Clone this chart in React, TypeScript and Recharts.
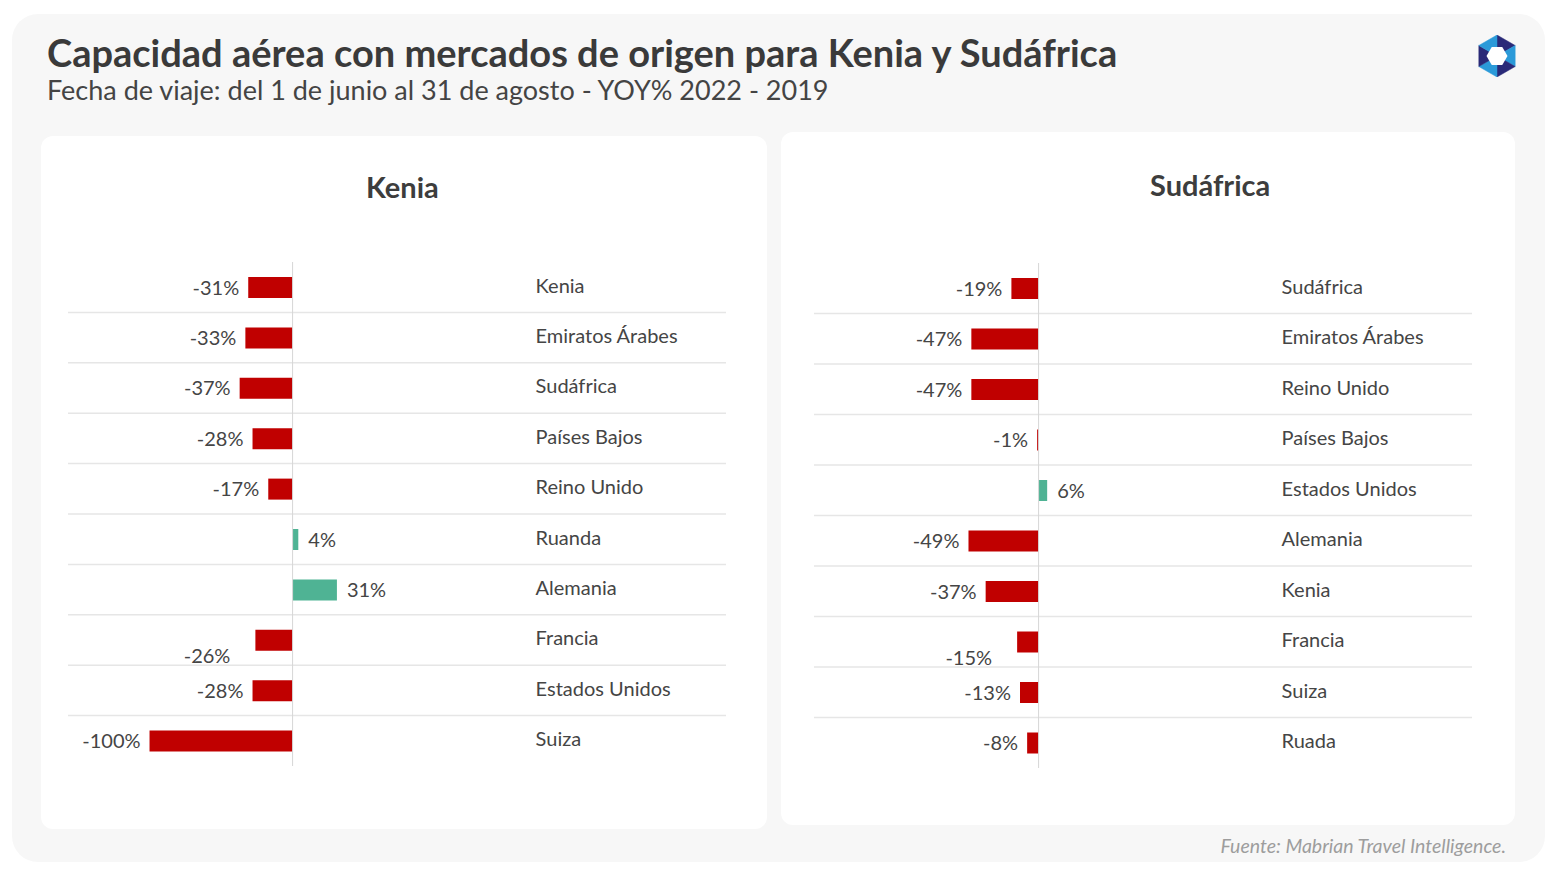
import React from 'react';
import { BarChart, Bar, XAxis, YAxis, CartesianGrid, ReferenceLine, LabelList, Cell } from 'recharts';

const keniaMarkets = ['Kenia', 'Emiratos Árabes', 'Sudáfrica', 'Países Bajos', 'Reino Unido', 'Ruanda', 'Alemania', 'Francia', 'Estados Unidos', 'Suiza'];
const keniaValues = [-31, -33, -37, -28, -17, 4, 31, -26, -28, -100];

const sudafricaMarkets = ['Sudáfrica', 'Emiratos Árabes', 'Reino Unido', 'Países Bajos', 'Estados Unidos', 'Alemania', 'Kenia', 'Francia', 'Suiza', 'Ruada'];
const sudafricaValues = [-19, -47, -47, -1, 6, -49, -37, -15, -13, -8];

const xDomain = [-157, 303];
const displacedLabelMarket = 'Francia';

const FONT = 'Lato, "Noto Sans", sans-serif';
const RED = '#c00000';
const GREEN = '#4fb394';
const TEXT = '#454545';

type PanelProps = {
  title: string;
  markets: string[];
  values: number[];
  left: number;
  top: number;
  width: number;
  height: number;
  margin: { top: number; left: number; right: number; bottom: number };
  titleLeft: number;
  titleTop: number;
};

function Panel(p: PanelProps) {
  const data = p.markets.map((name, i) => ({ name, value: p.values[i] }));
  const n = data.length;

  const renderLabel = (props: any) => {
    const { x, y, width, height, value, index } = props;
    const x0 = Math.min(x, x + width);
    const x1 = Math.max(x, x + width);
    const cy = y + height / 2;
    const displaced = data[index] && data[index].name === displacedLabelMarket;
    const neg = value < 0;
    const tx = neg ? x0 - 9 - (displaced ? 16 : 0) : x1 + 10;
    const ty = cy + (displaced ? 16 : 0);
    return (
      <text x={tx} y={ty} dy="0.35em" textAnchor={neg ? 'end' : 'start'} fontSize={20} fill={TEXT} fontFamily={FONT}>
        {`${value}%`}
      </text>
    );
  };

  const renderName = (props: any) => {
    const { x, y, width, height, index } = props;
    const d = data[index];
    if (!d) return null;
    const x0 = Math.min(x, x + width);
    const x1 = Math.max(x, x + width);
    const zero = d.value < 0 ? x1 : x0;
    const cy = y + height / 2;
    return (
      <text x={zero + 243} y={cy - 2} dy="0.35em" textAnchor="start" fontSize={20} fill={TEXT} fontFamily={FONT}>
        {d.name}
      </text>
    );
  };

  return (
    <div
      style={{
        position: 'absolute',
        left: p.left,
        top: p.top,
        width: p.width,
        height: p.height,
        background: '#ffffff',
        borderRadius: 12,
      }}
    >
      <div
        style={{
          position: 'absolute',
          left: p.titleLeft,
          top: p.titleTop,
          fontFamily: FONT,
          fontWeight: 700,
          fontSize: 29,
          color: '#3d3d3d',
          whiteSpace: 'nowrap',
        }}
      >
        {p.title}
      </div>
      <div style={{ position: 'absolute', left: 0, top: 0 }}>
        <BarChart width={p.width} height={p.height} data={data} layout="vertical" margin={p.margin} barCategoryGap={0}>
          <CartesianGrid
            vertical={false}
            stroke="#e6e6e6"
            strokeWidth={1.5}
            horizontalCoordinatesGenerator={({ offset }: any) => {
              const arr: number[] = [];
              for (let i = 1; i < n; i++) arr.push(offset.top + (i * offset.height) / n);
              return arr;
            }}
          />
          <XAxis type="number" domain={xDomain} hide allowDataOverflow />
          <YAxis type="category" dataKey="name" hide />
          <ReferenceLine x={0} stroke="#d6d6d6" strokeWidth={1} />
          <Bar dataKey="value" barSize={21} isAnimationActive={false}>
            {data.map((d, i) => (
              <Cell key={i} fill={d.value < 0 ? RED : GREEN} />
            ))}
            <LabelList dataKey="value" content={renderLabel} />
            <LabelList dataKey="name" content={renderName} />
          </Bar>
        </BarChart>
      </div>
    </div>
  );
}

function Logo() {
  const cx = 21;
  const cy = 21;
  const R = 21;
  const r = 10.5;
  const outer = Array.from({ length: 6 }, (_, i) => {
    const a = (Math.PI / 3) * i - Math.PI / 2;
    return [cx + R * Math.cos(a), cy + R * Math.sin(a)];
  });
  const inner = Array.from({ length: 6 }, (_, i) => {
    const a = (Math.PI / 3) * i;
    return [cx + r * Math.cos(a), cy + r * Math.sin(a)];
  });
  const colors = ['#2a2a78', '#2b9ad9', '#2a2a78', '#2b9ad9', '#2a2a78', '#2b9ad9'];
  return (
    <svg width={42} height={42} style={{ position: 'absolute', left: 1476, top: 35 }}>
      {outer.map((pt, i) => {
        const nx = outer[(i + 1) % 6];
        return <polygon key={i} points={`${pt[0]},${pt[1]} ${nx[0]},${nx[1]} ${cx},${cy}`} fill={colors[i]} stroke={colors[i]} strokeWidth={0.5} />;
      })}
      <polygon points={inner.map((q) => q.join(',')).join(' ')} fill="#ffffff" />
    </svg>
  );
}

export default function App() {
  return (
    <div style={{ position: 'absolute', left: 0, top: 0, width: 1557, height: 876, background: '#ffffff', overflow: 'hidden' }}>
      <div
        style={{
          position: 'absolute',
          left: 12,
          top: 14,
          width: 1533,
          height: 848,
          background: '#f7f7f7',
          borderRadius: 26,
        }}
      />
      <div
        style={{
          position: 'absolute',
          left: 47,
          top: 28,
          fontFamily: FONT,
          fontWeight: 700,
          fontSize: 38,
          color: '#3a3a3a',
          whiteSpace: 'nowrap',
          lineHeight: '48px',
        }}
      >
        Capacidad aérea con mercados de origen para Kenia y Sudáfrica
      </div>
      <div
        style={{
          position: 'absolute',
          left: 47,
          top: 74,
          fontFamily: FONT,
          fontWeight: 400,
          fontSize: 27,
          color: '#444444',
          whiteSpace: 'nowrap',
          lineHeight: '32px',
        }}
      >
        Fecha de viaje: del 1 de junio al 31 de agosto - YOY% 2022 - 2019
      </div>
      <Logo />
      <Panel
        title="Kenia"
        markets={keniaMarkets}
        values={keniaValues}
        left={41}
        top={136}
        width={726}
        height={693}
        margin={{ top: 126, left: 27, right: 41, bottom: 63 }}
        titleLeft={325}
        titleTop={33}
      />
      <Panel
        title="Sudáfrica"
        markets={sudafricaMarkets}
        values={sudafricaValues}
        left={781}
        top={132}
        width={734}
        height={693}
        margin={{ top: 131, left: 33, right: 43, bottom: 57 }}
        titleLeft={369}
        titleTop={35}
      />
      <div
        style={{
          position: 'absolute',
          right: 1557 - 1506,
          top: 834,
          fontFamily: FONT,
          fontStyle: 'italic',
          fontSize: 19.5,
          color: '#9d9d9d',
          whiteSpace: 'nowrap',
          lineHeight: '24px',
        }}
      >
        Fuente: Mabrian Travel Intelligence.
      </div>
    </div>
  );
}
